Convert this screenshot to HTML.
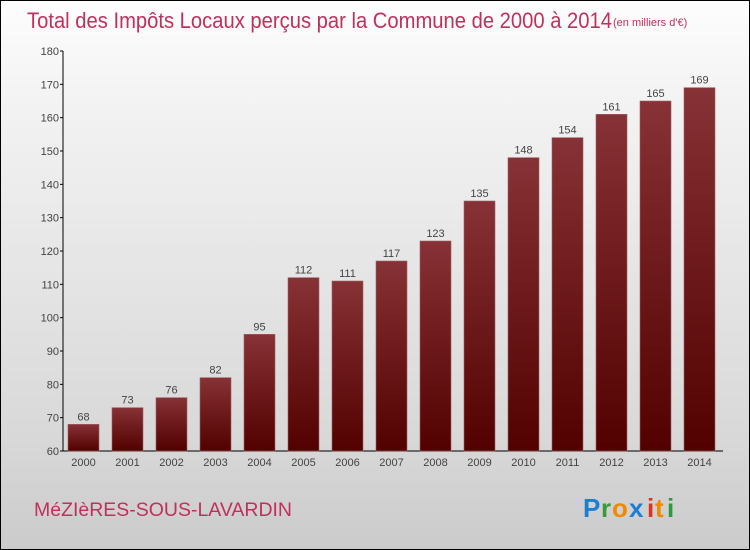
<!DOCTYPE html>
<html><head><meta charset="utf-8"><style>
body{margin:0}
#c{position:relative;width:748px;height:548px;border:1px solid #000;background:linear-gradient(#fdfdfd,#f2f2f2 20%,#d8d8d8 80%,#cbcbcb);overflow:hidden;font-family:"Liberation Sans",sans-serif}
</style></head><body>
<div id="c">
<svg width="748" height="548">
<defs><linearGradient id="g" x1="0" y1="0" x2="0" y2="1"><stop offset="0" stop-color="#873236"/><stop offset="1" stop-color="#520000"/></linearGradient></defs>
<text x="26" y="27" font-size="22" fill="#c0305a" textLength="585" lengthAdjust="spacingAndGlyphs">Total des Impôts Locaux perçus par la Commune de 2000 à 2014</text>
<text x="612" y="25" font-size="11" fill="#c0305a">(en milliers d'€)</text>
<g id="axes"></g>
<g id="bars"></g>
<text x="33" y="515" font-size="19" fill="#c0305a" textLength="258" lengthAdjust="spacingAndGlyphs">MéZIèRES-SOUS-LAVARDIN</text>
<g font-size="26" font-weight="bold">
<text x="582" y="516" fill="#1a7fd4">P</text><text x="600" y="516" fill="#3a9a3a">r</text><text x="611" y="516" fill="#f08a00">o</text><text x="628" y="516" fill="#1a7fd4">x</text><text x="646" y="516" fill="#e03020">i</text><text x="654" y="516" fill="#f08a00">t</text><text x="666" y="516" fill="#2a9a3a">i</text>
</g>
</svg>
</div>
<script>
const years=["2000","2001","2002","2003","2004","2005","2006","2007","2008","2009","2010","2011","2012","2013","2014"];
const values=[68,73,76,82,95,112,111,117,123,135,148,154,161,165,169];
const yTicks=[60,70,80,90,100,110,120,130,140,150,160,170,180];
const NS="http://www.w3.org/2000/svg";
const x0=62,x1=722,yMin=60,yMax=180,plotTop=50,plotBot=450;
const band=(x1-x0)/years.length;
function y(v){return plotBot-(v-yMin)/(yMax-yMin)*(plotBot-plotTop);}
function xb(i){return x0+band*i+5;}
function mk(t,a,p){const e=document.createElementNS(NS,t);for(const k in a)e.setAttribute(k,a[k]);p.appendChild(e);return e;}
const ax=document.getElementById('axes'),bs=document.getElementById('bars');
const yl=mk('line',{x1:x0,y1:plotTop,x2:x0,y2:plotBot,stroke:'#000'},ax);


const xl=mk('line',{x1:x0,y1:plotBot,x2:x1,y2:plotBot,stroke:'#000'},ax);


yTicks.forEach(v=>{
 mk('line',{x1:x0-3,y1:y(v),x2:x0,y2:y(v),stroke:'#000'},ax);
 const t=mk('text',{x:x0-4,y:y(v)+4,'font-size':11,fill:'#444','text-anchor':'end'},ax);t.textContent=v;
 
 
});
years.forEach((yr,i)=>{
 const v=values[i];
 const r=mk('rect',{x:xb(i),y:y(v),width:31,height:plotBot-y(v),fill:'url(#g)',stroke:'#a06060','stroke-width':0.6},bs);
 
 
 const l=mk('text',{x:xb(i)+15.5,y:y(v)-4,'font-size':11,fill:'#444','text-anchor':'middle'},bs);l.textContent=v;
 
 
 const t=mk('text',{x:xb(i)+15.5,y:plotBot+15,'font-size':11,fill:'#444','text-anchor':'middle'},ax);t.textContent=yr;
 
 
});
</script>
</body></html>
